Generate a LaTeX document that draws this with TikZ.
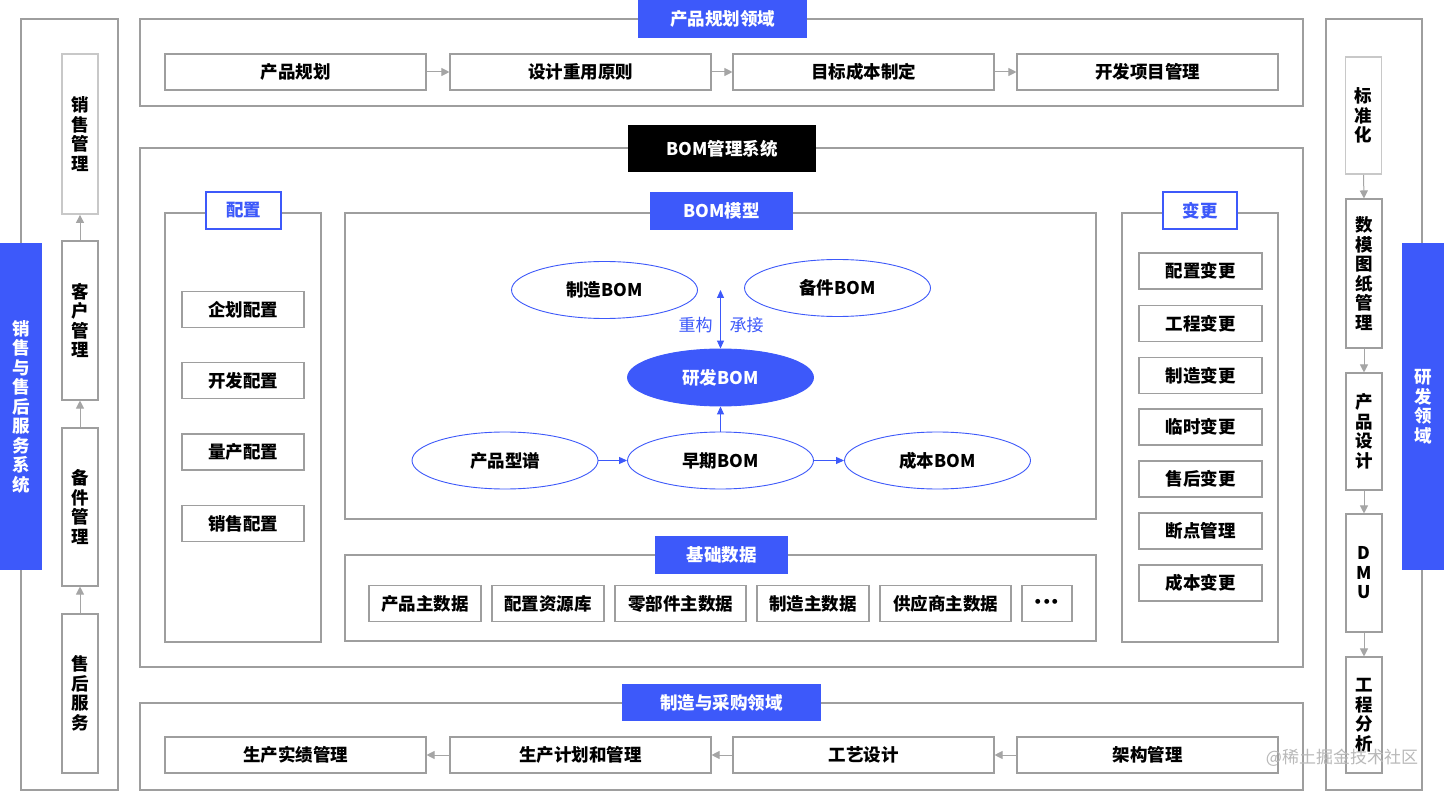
\documentclass[tikz,border=0pt]{standalone}
\usepackage{fontspec}
\usetikzlibrary{shapes.geometric,arrows.meta}
\newfontfamily\cjk{Noto Sans CJK SC}
\definecolor{bblue}{RGB}{61,89,250}
\definecolor{pgray}{RGB}{158,158,158}
\definecolor{lgray}{RGB}{200,200,200}
\definecolor{agray}{RGB}{165,165,165}
\definecolor{wmark}{RGB}{185,185,185}
\tikzset{
  wh/.style 2 args={minimum width=#1pt,minimum height=#2pt},
  panel/.style={draw=pgray,line width=1.3pt},
  txt/.style={font=\cjk\bfseries\fontsize{17.5}{19.5}\selectfont},
  box/.style={txt,draw=pgray,line width=1.1pt,fill=white,inner sep=0pt,align=center},
  lbox/.style={box,draw=lgray,line width=1.8pt},
  tabb/.style={txt,fill=bblue,text=white,inner sep=0pt,align=center},
  tabk/.style={txt,fill=black,text=white,inner sep=0pt},
  ctab/.style={txt,fill=white,draw=bblue,line width=1.2pt,text=bblue,inner sep=0pt},
  ell/.style={ellipse,txt,draw=bblue,line width=0.9pt,fill=white,inner sep=0pt,minimum width=186pt,minimum height=57pt},
  garr/.style={draw=agray,line width=1pt,-{Triangle[length=8pt,width=8pt]}},
  barr/.style={draw=bblue,line width=1pt,-{Triangle[length=8pt,width=7pt]}},
  blab/.style={font=\cjk\fontsize{17}{19}\selectfont,text=bblue,inner sep=0pt}
}
\begin{document}
\begin{tikzpicture}[x=1pt,y=-1pt]
\useasboundingbox[fill=white] (0,0) rectangle (1444,791);

% ---------- panels ----------
\draw[panel] (21,19) rectangle (118,790);
\draw[panel] (1326,19) rectangle (1422,790);
\draw[panel] (140,19) rectangle (1303,106);
\draw[panel] (140,148) rectangle (1303,667);
\draw[panel] (165,213) rectangle (321,642);
\draw[panel] (345,213) rectangle (1096,519);
\draw[panel] (345,555) rectangle (1096,641);
\draw[panel] (1122,213) rectangle (1278,642);
\draw[panel] (140,703) rectangle (1303,790);

% ---------- tabs ----------
\node[tabb,wh={169}{38}] (tplan) at (722.5,19) {产品规划领域};
\node[tabk,wh={188}{47}] (tbom) at (722,148.5) {BOM管理系统};
\node[tabb,wh={143}{38}] (tmodel) at (721.5,211) {BOM模型};
\node[tabb,wh={133}{38}] (tbase) at (721.5,555) {基础数据};
\node[tabb,wh={199}{37}] (tmfg) at (721.5,702.5) {制造与采购领域};
\node[ctab,wh={75}{37}] (tcfg) at (243.5,210.5) {配置};
\node[ctab,wh={74}{37}] (tchg) at (1200,210.5) {变更};
\node[tabb,wh={42}{327}] (lbar) at (21,406.5) {销\\售\\与\\售\\后\\服\\务\\系\\统};
\node[tabb,wh={42}{327}] (rbar) at (1423,406.5) {研\\发\\领\\域};

% ---------- left column ----------
\node[lbox,wh={36}{160}] (l1) at (80,134) {销\\售\\管\\理};
\node[box,wh={36}{159}] (l2) at (80,320.5) {客\\户\\管\\理};
\node[box,wh={36}{158}] (l3) at (80,507) {备\\件\\管\\理};
\node[box,wh={36}{159}] (l4) at (80,693.5) {售\\后\\服\\务};
\draw[garr] (l2.north) -- (l1.south);
\draw[garr] (l3.north) -- (l2.south);
\draw[garr] (l4.north) -- (l3.south);

% ---------- right column ----------
\node[lbox,wh={36}{117}] (r1) at (1363.5,115.5) {标\\准\\化};
\node[box,wh={36}{149}] (r2) at (1364,273.5) {数\\模\\图\\纸\\管\\理};
\node[box,wh={36}{117}] (r3) at (1364,431.5) {产\\品\\设\\计};
\node[box,wh={36}{118}] (r4) at (1364,573) {D\\M\\U};
\node[box,wh={36}{116}] (r5) at (1364,715) {工\\程\\分\\析};
\draw[garr] (r1.south) -- (r2.north);
\draw[garr] (r2.south) -- (r3.north);
\draw[garr] (r3.south) -- (r4.north);
\draw[garr] (r4.south) -- (r5.north);

% ---------- top row ----------
\node[box,wh={261}{36}] (p1) at (295.5,72) {产品规划};
\node[box,wh={261}{36}] (p2) at (580.5,72) {设计重用原则};
\node[box,wh={261}{36}] (p3) at (863.5,72) {目标成本制定};
\node[box,wh={261}{36}] (p4) at (1147.5,72) {开发项目管理};
\draw[garr] (p1.east) -- (p2.west);
\draw[garr] (p2.east) -- (p3.west);
\draw[garr] (p3.east) -- (p4.west);

% ---------- bottom row ----------
\node[box,wh={261}{36}] (m1) at (295.5,755) {生产实绩管理};
\node[box,wh={261}{36}] (m2) at (580.5,755) {生产计划和管理};
\node[box,wh={261}{36}] (m3) at (863.5,755) {工艺设计};
\node[box,wh={261}{36}] (m4) at (1147.5,755) {架构管理};
\draw[garr] (m2.west) -- (m1.east);
\draw[garr] (m3.west) -- (m2.east);
\draw[garr] (m4.west) -- (m3.east);

% ---------- config ----------
\node[box,wh={122}{36}] (c1) at (243,309.5) {企划配置};
\node[box,wh={122}{36}] (c2) at (243,380.5) {开发配置};
\node[box,wh={122}{36}] (c3) at (243,452) {量产配置};
\node[box,wh={122}{36}] (c4) at (243,523.5) {销售配置};

% ---------- change ----------
\node[box,wh={123}{36}] (g1) at (1200.5,271) {配置变更};
\node[box,wh={123}{36}] (g2) at (1200.5,323.5) {工程变更};
\node[box,wh={123}{36}] (g3) at (1200.5,375.5) {制造变更};
\node[box,wh={123}{36}] (g4) at (1200.5,427) {临时变更};
\node[box,wh={123}{36}] (g5) at (1200.5,479) {售后变更};
\node[box,wh={123}{36}] (g6) at (1200.5,531) {断点管理};
\node[box,wh={123}{36}] (g7) at (1200.5,583) {成本变更};

% ---------- base data ----------
\node[box,wh={112}{36}] (d1) at (425,603.5) {产品主数据};
\node[box,wh={112}{36}] (d2) at (548,603.5) {配置资源库};
\node[box,wh={131}{36}] (d3) at (680.5,603.5) {零部件主数据};
\node[box,wh={112}{36}] (d4) at (813,603.5) {制造主数据};
\node[box,wh={131}{36}] (d5) at (945.5,603.5) {供应商主数据};
\node[box,wh={50}{36}] (d6) at (1047,603.5) {·\kern-9pt·\kern-9pt·};

% ---------- BOM model ----------
\node[ell] (zz) at (604.5,290) {制造BOM};
\node[ell] (bj) at (837.5,288) {备件BOM};
\node[ell,fill=bblue,text=white] (yf) at (720.5,377.5) {研发BOM};
\node[ell] (xp) at (505,460.5) {产品型谱};
\node[ell] (zq) at (720.5,460.5) {早期BOM};
\node[ell] (cb) at (937.5,460.5) {成本BOM};
\coordinate (dtop) at (720.5,290);
\draw[barr,{Triangle[length=8pt,width=7pt]}-{Triangle[length=8pt,width=7pt]}] (dtop) -- (yf.north);
\node[blab] (lchg) at (695.5,325.5) {重构};
\node[blab] (lcj) at (746.5,325.5) {承接};
\draw[barr] (zq.north) -- (yf.south);
\draw[barr] (xp.east) -- (zq.west);
\draw[barr] (zq.east) -- (cb.west);

% ---------- watermark ----------
\node[font=\cjk\fontsize{17}{19}\selectfont,text=wmark,inner sep=0pt] (wm) at (1342,757.5) {@稀土掘金技术社区};
\end{tikzpicture}
\end{document}
